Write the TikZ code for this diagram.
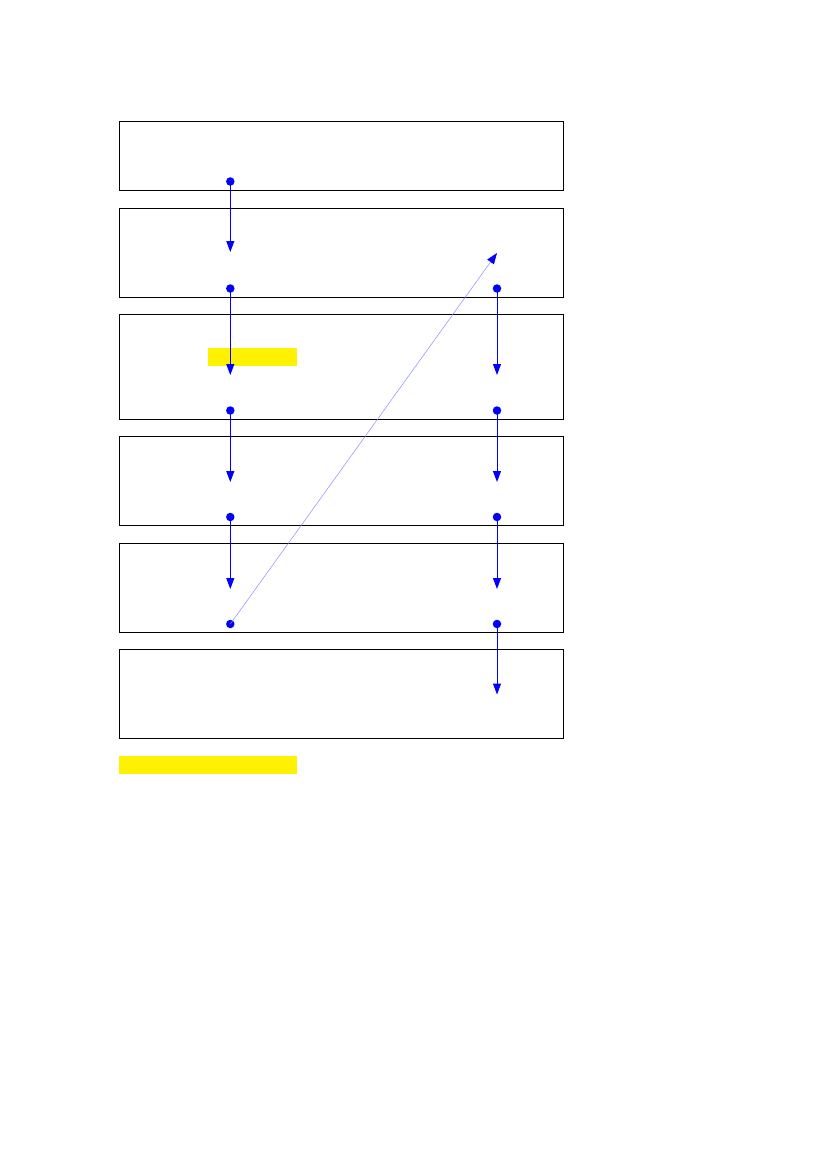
\documentclass[tikz,border=0pt]{standalone}
\usetikzlibrary{arrows.meta}
\begin{document}
\begin{tikzpicture}[x=1pt,y=-1pt,
  panel/.style={draw=black,line width=1pt,minimum width=444pt,inner sep=0pt,outer sep=0pt,anchor=north west},
  dotn/.style={circle,fill=blue,inner sep=0pt,minimum size=8.5pt},
  flow/.style={draw=blue,line width=1pt,-{Triangle[width=8pt,length=11pt,fill=blue]}},
  cross/.style={draw=blue!45,line width=0.5pt,-{Triangle[width=8pt,length=11pt,color=blue,fill=blue]}},
  hilite/.style={fill=yellow,draw=none}]
\useasboundingbox (0,0) rectangle (827,1169);
% panels
\node[panel,minimum height=69pt] (p1) at (119.5,121.5) {};
\node[panel,minimum height=88.5pt] (p2) at (119.5,208.5) {};
\node[panel,minimum height=104.5pt] (p3) at (119.5,314.5) {};
\node[panel,minimum height=89pt] (p4) at (119.5,436.5) {};
\node[panel,minimum height=89pt] (p5) at (119.5,543.5) {};
\node[panel,minimum height=89pt] (p6) at (119.5,649.5) {};
% highlight marks
\fill[hilite] (208,348) rectangle (297,365.5);
\fill[hilite] (119,756) rectangle (297,773.5);
% dots
\node[dotn] (a1) at (230.3,181.5) {};
\node[dotn] (a2) at (230.3,288.5) {};
\node[dotn] (a3) at (230.3,410.5) {};
\node[dotn] (a4) at (230.3,517) {};
\node[dotn] (a5) at (230.3,624) {};
\node[dotn] (b2) at (497,288.5) {};
\node[dotn] (b3) at (497,410.5) {};
\node[dotn] (b4) at (497,517) {};
\node[dotn] (b5) at (497,624) {};
% arrow ends
\coordinate (ta2) at (230.3,252);
\coordinate (ta3) at (230.3,375);
\coordinate (ta4) at (230.3,482);
\coordinate (ta5) at (230.3,589);
\coordinate (tb3) at (497,375);
\coordinate (tb4) at (497,482);
\coordinate (tb5) at (497,589);
\coordinate (tb6) at (497,694.5);
\coordinate (tx) at (497,253);
% connectors
\draw[flow] (a1.center) -- (ta2);
\draw[flow] (a2.center) -- (ta3);
\draw[flow] (a3.center) -- (ta4);
\draw[flow] (a4.center) -- (ta5);
\draw[flow] (b2.center) -- (tb3);
\draw[flow] (b3.center) -- (tb4);
\draw[flow] (b4.center) -- (tb5);
\draw[flow] (b5.center) -- (tb6);
\draw[cross] (a5.center) -- (tx);
\end{tikzpicture}
\end{document}
